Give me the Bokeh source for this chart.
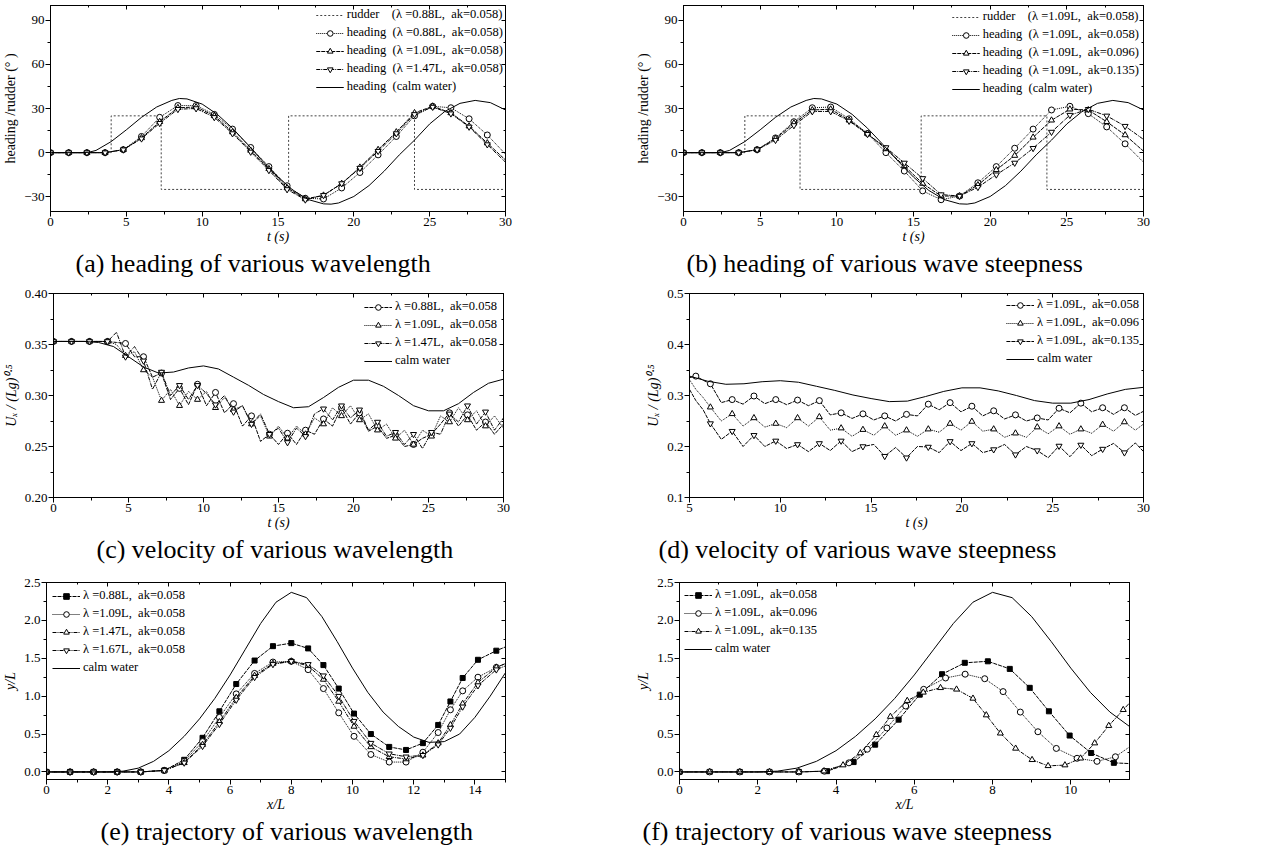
from bokeh.plotting import figure
from bokeh.models import (Range1d, LinearAxis, SingleIntervalTicker, Legend, LegendItem,
                          Title, NumeralTickFormatter, CustomJSTickFormatter)
from bokeh.layouts import column, row
from bokeh.embed import file_html
from bokeh.resources import INLINE

FONT = "Liberation Serif"
S = "\u00a0"

# ---------------- data: heading (a), (b) ----------------
t_heading = [0.0, 1.2, 2.4, 3.6, 4.8, 6.0, 7.2, 8.4, 9.6, 10.8, 12.0, 13.2, 14.4, 15.6, 16.8,
             18.0, 19.2, 20.4, 21.6, 22.8, 24.0, 25.2, 26.4, 27.6, 28.8, 30.0]
h_a_088 = [0, 0, 0, 0, 2, 11, 24, 32, 32, 26, 16, 3.5, -9.5, -22.5, -31, -31.5, -24, -13.5, -1.5, 11, 25, 31.5, 30.5, 23, 12, -1]
h_a_109 = [0, 0, 0, 0, 2, 10, 21, 30.5, 31, 25, 14, 1.5, -11, -24, -31.5, -29, -21, -10, 2, 14, 27, 31.5, 27, 18, 6.5, -5]
h_a_147 = [0, 0, 0, 0, 2, 9.5, 20, 29.5, 30, 24, 13, 0.5, -12, -25, -32, -29, -21, -10.5, 1, 13, 26, 31, 26.5, 17.5, 5.5, -6.5]
h_b_058 = [0, 0, 0, 0, 2, 10, 21, 30.5, 31, 23, 13, 0, -12.5, -26, -32, -29.5, -20.5, -9.5, 3, 16, 29, 31.5, 26.5, 17.5, 6, -6.5]
h_b_096 = [0, 0, 0, 0, 2, 9.5, 20, 29, 29.5, 22, 13, 2.5, -9, -21, -29.5, -29.5, -22, -11.7, -2, 10.4, 22, 29.5, 29, 21, 12, 1]
h_b_135 = [0, 0, 0, 0, 2, 8.5, 18.5, 28, 28, 21.5, 12.5, 3.5, -7, -17.5, -28.5, -29.5, -23.5, -15, -7, 3, 14, 25.5, 29.5, 25, 18, 9]

t_calm_h = [0, 1, 2, 2.5, 3, 4, 5, 6, 7, 8, 8.5, 9, 10, 11, 12, 13, 14, 15, 16, 17, 18, 18.5, 19, 20,
            21, 22, 23, 24, 25, 26, 27, 28, 29, 30]
calm_h = [0, 0, 0, 0.2, 1.5, 7.5, 15.5, 24, 31, 35.5, 36.8, 36.5, 33, 26, 16.6, 5.6, -5.9, -16.6, -25.7,
          -31.9, -34.8, -35, -34.2, -29.8, -22.4, -12.6, -1.5, 8.5, 19.5, 28, 33.5, 35.5, 34, 29]

rud_a_t = [0, 4.0, 4.0, 7.3, 7.3, 15.7, 15.7, 24.0, 24.0, 30.0]
rud_b_t = [0, 4.0, 4.0, 7.6, 7.6, 15.5, 15.5, 23.7, 23.7, 30.0]
rud_v = [0, 0, 25, 25, -25, -25, 25, 25, -25, -25]

# ---------------- data: velocity (c) ----------------
t_c = [0.0, 0.6, 1.2, 1.8, 2.4, 3.0, 3.6, 4.2, 4.8, 5.4, 6.0, 6.6, 7.2, 7.8, 8.4, 9.0, 9.6, 10.2, 10.8,
       11.4, 12.0, 12.6, 13.2, 13.8, 14.4, 15.0, 15.6, 16.2, 16.8, 17.4, 18.0, 18.6, 19.2, 19.8, 20.4,
       21.0, 21.6, 22.2, 22.8, 23.4, 24.0, 24.6, 25.2, 25.8, 26.4, 27.0, 27.6, 28.2, 28.8, 29.4, 30.0]
u_c_088 = [.353, .353, .353, .353, .353, .353, .353, .352, .351, .338, .338, .318, .322, .296, .307, .291,
           .311, .290, .303, .283, .292, .270, .280, .255, .262, .252, .263, .252, .266, .262, .277, .270,
           .288, .272, .283, .265, .270, .258, .261, .250, .252, .258, .262, .272, .283, .270, .281, .266,
           .274, .262, .272]
u_c_109 = [.353, .353, .353, .353, .353, .353, .353, .350, .339, .343, .325, .318, .295, .306, .290, .304,
           .296, .304, .288, .298, .286, .290, .272, .280, .260, .270, .258, .270, .262, .278, .272, .288,
           .280, .290, .276, .282, .266, .272, .258, .266, .252, .266, .260, .280, .274, .288, .276, .285,
           .270, .280, .268]
u_c_147 = [.353, .353, .353, .353, .353, .353, .353, .362, .338, .348, .334, .306, .323, .300, .310, .296,
           .310, .302, .291, .300, .284, .290, .272, .282, .262, .268, .254, .268, .260, .282, .287, .276,
           .290, .278, .286, .266, .274, .260, .264, .252, .262, .248, .264, .262, .282, .274, .290, .272,
           .284, .266, .278]
t_calm_u = [0, 1, 2, 3, 4, 5, 6, 7, 8, 9, 10, 11, 12, 13, 14, 15, 16, 17, 18, 19, 20, 21, 22, 23, 24, 25,
            26, 27, 28, 29, 30]
calm_u = [.353, .353, .353, .352, .348, .338, .328, .322, .323, .327, .329, .326, .318, .310, .301, .294,
          .288, .289, .298, .308, .315, .315, .309, .300, .290, .285, .285, .292, .303, .312, .316]

# ---------------- data: velocity (d) ----------------
t_d = [5.0, 5.35, 5.75, 6.15, 6.75, 7.35, 7.95, 8.55, 9.15, 9.75, 10.35, 10.95, 11.55, 12.15, 12.75,
       13.35, 13.95, 14.55, 15.15, 15.75, 16.35, 16.95, 17.55, 18.15, 18.75, 19.35, 19.95, 20.55, 21.15,
       21.75, 22.35, 22.95, 23.55, 24.15, 24.75, 25.35, 25.95, 26.55, 27.15, 27.75, 28.35, 28.95, 29.55, 30.0]
u_d_058 = [.335, .338, .330, .323, .286, .292, .283, .299, .284, .292, .282, .291, .280, .290, .262, .266,
           .255, .264, .252, .260, .250, .263, .260, .283, .272, .286, .268, .279, .260, .270, .254, .262,
           .250, .256, .252, .275, .266, .285, .268, .276, .263, .276, .261, .269]
u_d_096 = [.331, .312, .296, .277, .250, .264, .240, .256, .238, .245, .237, .256, .240, .258, .232, .236,
           .220, .233, .222, .240, .222, .232, .220, .234, .228, .245, .232, .249, .230, .234, .218, .226,
           .218, .238, .225, .240, .224, .234, .226, .243, .230, .248, .232, .244]
u_d_135 = [.312, .290, .272, .245, .214, .230, .200, .222, .200, .211, .196, .204, .190, .206, .192, .211,
           .190, .200, .204, .181, .198, .178, .200, .199, .188, .210, .192, .206, .188, .194, .204, .184,
           .200, .192, .178, .201, .180, .203, .182, .195, .206, .188, .207, .190]

# ---------------- data: trajectory (e), (f) ----------------
x_e = [0, 0.77, 1.54, 2.31, 3.08, 3.85, 4.5, 5.1, 5.65, 6.2, 6.8, 7.4, 8.0, 8.55, 9.05, 9.55, 10.05, 10.6,
       11.2, 11.75, 12.3, 12.8, 13.2, 13.6, 14.1, 14.7, 15.0]
y_e_088 = [0, 0, 0, 0, 0, 0.02, 0.16, 0.45, 0.80, 1.16, 1.47, 1.66, 1.70, 1.63, 1.41, 1.10, 0.77, 0.50,
           0.33, 0.29, 0.38, 0.62, 0.93, 1.24, 1.48, 1.60, 1.65]
y_e_109 = [0, 0, 0, 0, 0, 0.02, 0.14, 0.40, 0.72, 1.03, 1.30, 1.45, 1.46, 1.35, 1.10, 0.78, 0.47, 0.23,
           0.13, 0.13, 0.26, 0.52, 0.82, 1.07, 1.25, 1.38, 1.43]
y_e_147 = [0, 0, 0, 0, 0, 0.02, 0.12, 0.36, 0.66, 0.98, 1.27, 1.43, 1.46, 1.40, 1.22, 0.93, 0.60, 0.33,
           0.20, 0.17, 0.22, 0.38, 0.62, 0.90, 1.18, 1.38, 1.43]
y_e_167 = [0, 0, 0, 0, 0, 0.02, 0.12, 0.34, 0.63, 0.95, 1.25, 1.42, 1.46, 1.42, 1.27, 1.00, 0.67, 0.38,
           0.24, 0.20, 0.22, 0.36, 0.58, 0.86, 1.14, 1.35, 1.40]
x_calm = [0, 1, 2, 2.5, 3, 3.5, 4, 4.5, 5, 5.5, 6, 6.5, 7, 7.5, 8, 8.5, 9, 9.5, 10, 10.5, 11, 11.5, 12,
          12.5, 13, 13.5, 14, 14.5, 15]
y_calm = [0, 0, 0, 0.01, 0.05, 0.14, 0.28, 0.47, 0.70, 0.97, 1.28, 1.62, 1.96, 2.24, 2.37, 2.30, 2.05,
          1.72, 1.37, 1.05, 0.79, 0.60, 0.46, 0.39, 0.40, 0.50, 0.72, 1.00, 1.31]

x_f_058 = [0, 0.77, 1.54, 2.3, 3.05, 3.77, 4.45, 5.0, 5.6, 6.14, 6.71, 7.29, 7.88, 8.44, 8.95, 9.44, 9.97,
           10.52, 11.1, 11.5]
y_f_058 = [0, 0, 0, 0, 0, 0.01, 0.13, 0.36, 0.69, 1.02, 1.29, 1.44, 1.46, 1.36, 1.11, 0.80, 0.48, 0.25,
           0.12, 0.11]
x_f_096 = [0, 0.77, 1.54, 2.3, 3.05, 3.7, 4.33, 4.8, 5.3, 5.78, 6.24, 6.8, 7.3, 7.8, 8.27, 8.71, 9.16,
           9.63, 10.16, 10.67, 11.14, 11.5]
y_f_096 = [0, 0, 0, 0, 0, 0.01, 0.12, 0.30, 0.58, 0.87, 1.09, 1.24, 1.29, 1.23, 1.06, 0.79, 0.53, 0.31,
           0.18, 0.14, 0.20, 0.33]
x_f_135 = [0, 0.77, 1.54, 2.3, 3.05, 3.69, 4.18, 4.62, 5.03, 5.39, 5.82, 6.23, 6.67, 7.08, 7.5, 7.84,
           8.2, 8.59, 9.01, 9.42, 9.85, 10.25, 10.61, 10.97, 11.34, 11.5]
y_f_135 = [0, 0, 0, 0, 0, 0.01, 0.09, 0.25, 0.49, 0.73, 0.94, 1.05, 1.11, 1.09, 0.97, 0.75, 0.51, 0.31,
           0.16, 0.08, 0.09, 0.18, 0.38, 0.61, 0.82, 0.91]

# ---------------- helpers ----------------
W = 633


def style_axis(ax, fmt=None, italic=True):
    ax.axis_line_color = "black"
    ax.major_tick_line_color = "black"
    ax.minor_tick_line_color = "black"
    ax.major_tick_out = 5
    ax.major_tick_in = 0
    ax.minor_tick_out = 3
    ax.minor_tick_in = 0
    ax.major_label_text_font = FONT
    ax.major_label_text_font_size = "13px"
    ax.major_label_text_color = "black"
    ax.major_label_standoff = 1
    ax.axis_label_text_font = FONT
    ax.axis_label_text_font_size = "14px"
    ax.axis_label_text_color = "black"
    ax.axis_label_text_font_style = "italic" if italic else "normal"
    ax.axis_label_standoff = 2
    if fmt is not None:
        ax.formatter = fmt


def make_fig(H, left, right, top, bottom, xr, yr, xint, yint, xlabel, ylabel,
             yfmt=None, ylab_italic=True, caption="", cap_offset=0):
    p = figure(width=W, height=H, x_range=Range1d(*xr), y_range=Range1d(*yr),
               output_backend="svg", toolbar_location=None, title=None,
               min_border_left=left, min_border_right=W - right,
               min_border_top=top, min_border_bottom=H - bottom)
    p.xgrid.visible = False
    p.ygrid.visible = False
    p.outline_line_color = "black"
    p.outline_line_width = 1
    p.background_fill_color = "white"
    p.border_fill_color = "white"
    p.xaxis[0].ticker = SingleIntervalTicker(interval=xint, num_minor_ticks=2)
    p.yaxis[0].ticker = SingleIntervalTicker(interval=yint, num_minor_ticks=2)
    style_axis(p.xaxis[0])
    style_axis(p.yaxis[0], yfmt, ylab_italic)
    p.xaxis[0].axis_label = xlabel
    p.yaxis[0].axis_label = ylabel
    p.yaxis[0].axis_label_standoff = 3
    p.xaxis[0].axis_label_standoff = 0
    for loc, iv in (("above", xint), ("right", yint)):
        ax = LinearAxis(ticker=SingleIntervalTicker(interval=iv, num_minor_ticks=2),
                        formatter=CustomJSTickFormatter(code="return ''"),
                        major_tick_in=4, major_tick_out=0, minor_tick_in=2, minor_tick_out=0,
                        major_label_text_font_size="0px", major_label_standoff=0,
                        axis_line_color="black", major_tick_line_color="black",
                        minor_tick_line_color="black")
        p.add_layout(ax, loc)
    t = Title(text=caption, align="left", offset=cap_offset, text_font=FONT,
              text_font_size="26px", text_font_style="normal", text_color="black", standoff=0)
    p.add_layout(t, "below")
    return p


def add_series(p, x, y, dash, marker=None, mx=None, my=None, fill="white", size=6, color="black", width=1):
    rs = [p.line(x, y, line_color=color, line_width=width, line_dash=dash)]
    if marker:
        rs.append(p.scatter(mx, my, marker=marker, size=size, fill_color=fill,
                            line_color=color, line_width=1))
    return rs


def add_legend(p, items, location, margin=2, padding=3):
    lg = Legend(items=[LegendItem(label=l, renderers=r) for l, r in items], location=location,
                border_line_alpha=0, background_fill_alpha=0, label_text_font=FONT,
                label_text_font_size="12.5px", label_text_color="black",
                glyph_width=28, glyph_height=14, label_height=14, spacing=3,
                padding=padding, margin=margin, label_standoff=3)
    p.add_layout(lg)


DOT = "1 1"
DASH = "4 1"
DASHDOT = "4 1 1 1"
RUD = "2 2"


def lam(l, ak):
    return "\u03bb =" + l + "L," + S + S + "ak=" + ak


# ---------------- (a) ----------------
H1, H2, H3 = 287, 283, 290
pa = make_fig(H1, 43, 505, 5, 211, (0, 30), (-40, 100), 5, 30, "t (s)", "heading /rudder (\u00b0 )",
              ylab_italic=False, caption="(a) heading of various wavelength", cap_offset=25)
r_rud = add_series(pa, rud_a_t, rud_v, RUD, color="#444444")
r1 = add_series(pa, t_heading, h_a_088, DOT, "circle", t_heading[:-1], h_a_088[:-1])
r2 = add_series(pa, t_heading, h_a_109, DASH, "triangle", t_heading[:-1], h_a_109[:-1])
r3 = add_series(pa, t_heading, h_a_147, DASHDOT, "inverted_triangle", t_heading[:-1], h_a_147[:-1])
r4 = add_series(pa, t_calm_h, calm_h, "solid")
add_legend(pa, [("rudder" + S * 4 + "(" + lam("0.88", "0.058") + ")", r_rud),
                ("heading" + S * 2 + "(" + lam("0.88", "0.058") + ")", r1),
                ("heading" + S * 2 + "(" + lam("1.09", "0.058") + ")", r2),
                ("heading" + S * 2 + "(" + lam("1.47", "0.058") + ")", r3),
                ("heading" + S * 2 + "(calm water)", r4)], "top_right", margin=0, padding=2)

# ---------------- (b) ----------------
pb = make_fig(H1, 49, 510, 5, 211, (0, 30), (-40, 100), 5, 30, "t (s)", "heading /rudder (\u00b0 )",
              ylab_italic=False, caption="(b) heading of various wave steepness", cap_offset=3)
r_rud = add_series(pb, rud_b_t, rud_v, RUD, color="#444444")
r1 = add_series(pb, t_heading, h_b_058, DOT, "circle", t_heading[:-1], h_b_058[:-1])
r2 = add_series(pb, t_heading, h_b_096, DASH, "triangle", t_heading[:-1], h_b_096[:-1])
r3 = add_series(pb, t_heading, h_b_135, DASHDOT, "inverted_triangle", t_heading[:-1], h_b_135[:-1])
r4 = add_series(pb, t_calm_h, calm_h, "solid")
add_legend(pb, [("rudder" + S * 4 + "(" + lam("1.09", "0.058") + ")", r_rud),
                ("heading" + S * 2 + "(" + lam("1.09", "0.058") + ")", r1),
                ("heading" + S * 2 + "(" + lam("1.09", "0.096") + ")", r2),
                ("heading" + S * 2 + "(" + lam("1.09", "0.135") + ")", r3),
                ("heading" + S * 2 + "(calm water)", r4)], "top_right", margin=2, padding=2)

# ---------------- (c) ----------------
UL = "U\u2093 / (Lg)\u2070\u00b7\u2075"
pc = make_fig(H2, 50, 503, 6, 210, (0, 30), (0.2, 0.4), 5, 0.05, "t (s)", UL,
              yfmt=NumeralTickFormatter(format="0.00"),
              caption="(c) velocity of various wavelength", cap_offset=43)
r1 = add_series(pc, t_c, u_c_088, DASH, "circle", t_c[0:49:2], u_c_088[0:49:2])
r2 = add_series(pc, t_c, u_c_109, DOT, "triangle", t_c[0:49:2], u_c_109[0:49:2])
r3 = add_series(pc, t_c, u_c_147, DASHDOT, "inverted_triangle", t_c[0:49:2], u_c_147[0:49:2])
r4 = add_series(pc, t_calm_u, calm_u, "solid")
add_legend(pc, [(lam("0.88", "0.058"), r1), (lam("1.09", "0.058"), r2),
                (lam("1.47", "0.058"), r3), ("calm water", r4)], "top_right", margin=4, padding=2)

# ---------------- (d) ----------------
pd_ = make_fig(H2, 56, 510, 5, 212, (5, 30), (0.1, 0.5), 5, 0.1, "t (s)", UL,
               yfmt=NumeralTickFormatter(format="0.0"),
               caption="(d) velocity of various wave steepness", cap_offset=-31)
r1 = add_series(pd_, t_d, u_d_058, DASH, "circle", t_d[1:42:2], u_d_058[1:42:2])
r2 = add_series(pd_, t_d, u_d_096, DOT, "triangle", t_d[3:42:2], u_d_096[3:42:2])
r3 = add_series(pd_, t_d, u_d_135, DASH, "inverted_triangle", t_d[3:42:2], u_d_135[3:42:2])
r4 = add_series(pd_, t_calm_u, calm_u, "solid")
add_legend(pd_, [(lam("1.09", "0.058"), r1), (lam("1.09", "0.096"), r2),
                 (lam("1.09", "0.135"), r3), ("calm water", r4)], "top_right", margin=2, padding=2)

# ---------------- (e) ----------------
pe = make_fig(H3, 45, 505, 7, 209, (0, 15), (-0.1, 2.5), 2, 0.5, "x/L", "y/L",
              yfmt=NumeralTickFormatter(format="0.0"),
              caption="(e) trajectory of various wavelength", cap_offset=54)
r1 = add_series(pe, x_e, y_e_088, DASH, "square", x_e[:-1], y_e_088[:-1], fill="black", size=5)
r2 = add_series(pe, x_e, y_e_109, DOT, "circle", x_e[:-1], y_e_109[:-1])
r3 = add_series(pe, x_e, y_e_147, DASHDOT, "triangle", x_e[:-1], y_e_147[:-1])
r4 = add_series(pe, x_e, y_e_167, DASHDOT, "inverted_triangle", x_e[:-1], y_e_167[:-1])
r5 = add_series(pe, x_calm, y_calm, "solid")
add_legend(pe, [(lam("0.88", "0.058"), r1), (lam("1.09", "0.058"), r2), (lam("1.47", "0.058"), r3),
                (lam("1.67", "0.058"), r4), ("calm water", r5)], "top_left", margin=3, padding=3)

# ---------------- (f) ----------------
pf = make_fig(H3, 46, 496, 12, 211, (0, 11.5), (-0.1, 2.5), 2, 0.5, "x/L", "y/L",
              yfmt=NumeralTickFormatter(format="0.0"),
              caption="(f) trajectory of various wave steepness", cap_offset=-37)
r1 = add_series(pf, x_f_058, y_f_058, DASH, "square", x_f_058[:-1], y_f_058[:-1], fill="black", size=5)
r2 = add_series(pf, x_f_096, y_f_096, DOT, "circle", x_f_096[:-1], y_f_096[:-1])
r3 = add_series(pf, x_f_135, y_f_135, DASHDOT, "triangle", x_f_135[:-1], y_f_135[:-1])
r4 = add_series(pf, x_calm, y_calm, "solid")
add_legend(pf, [(lam("1.09", "0.058"), r1), (lam("1.09", "0.096"), r2),
                (lam("1.09", "0.135"), r3), ("calm water", r4)], "top_left", margin=3, padding=2)

layout = column(row(pa, pb), row(pc, pd_), row(pe, pf))
open("out.html", "w").write(file_html(layout, INLINE))
